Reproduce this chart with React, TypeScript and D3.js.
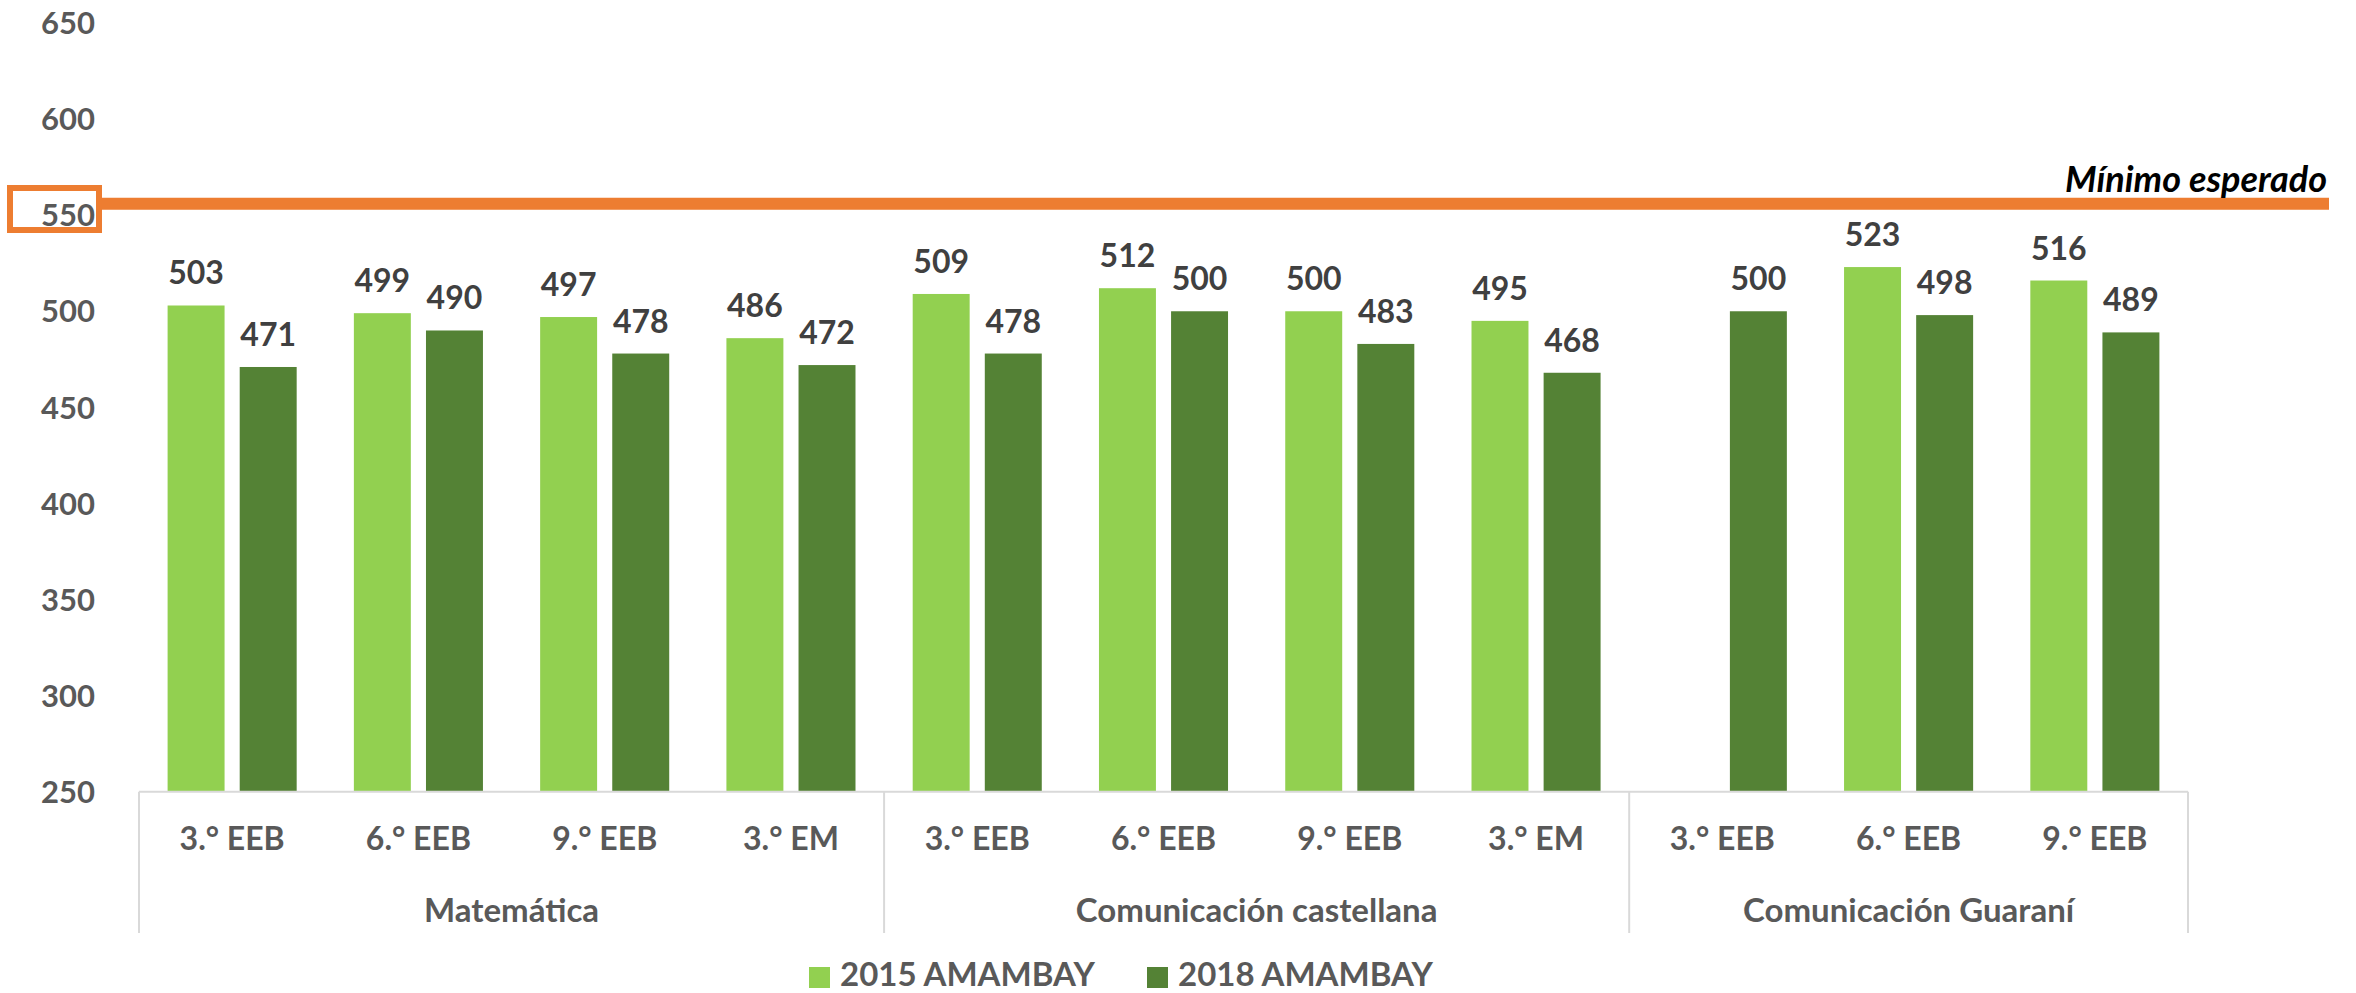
import React from "react";
import * as d3 from "d3";

// data
const categories = ["3.° EEB", "6.° EEB", "9.° EEB", "3.° EM", "3.° EEB", "6.° EEB", "9.° EEB", "3.° EM", "3.° EEB", "6.° EEB", "9.° EEB"];
const groupNames = ["Matemática", "Comunicación castellana", "Comunicación Guaraní"];
const groupSizes = [4, 4, 3];
const seriesNames = ["2015 AMAMBAY", "2018 AMAMBAY"];
const values2015 = [503, 499, 497, 486, 509, 512, 500, 495, null, 523, 516];
const values2018 = [471, 490, 478, 472, 478, 500, 483, 468, 500, 498, 489];
const minimoEsperado = 556;
const minimoLabel = "Mínimo esperado";

const W = 2356;
const H = 993;
const colors = ["#92D050", "#548235"];
const font = "Lato, 'Open Sans', sans-serif";

export default function App() {
  const plotLeft = 139;
  const plotRight = 2188;

  const y = d3.scaleLinear().domain([250, 650]).range([791.7, 23]);
  const x0 = d3
    .scaleBand<number>()
    .domain(d3.range(categories.length))
    .range([plotLeft, plotRight]);
  const bw0 = x0.bandwidth();
  const inset = 28.6;
  const x1 = d3
    .scaleBand<string>()
    .domain(seriesNames)
    .range([inset, bw0 - inset])
    .paddingInner(0.21);

  const series = [values2015, values2018];
  const ticks = y.ticks(8);

  // group boundaries (category index where each group starts)
  const starts = groupSizes.map((_, i) => d3.sum(groupSizes.slice(0, i)));
  const sepIdx = [...starts, categories.length];

  const baseY = y(250);
  const sepBottom = 933;

  return (
    <svg
      width={W}
      height={H}
      style={{ position: "absolute", left: 0, top: 0, background: "#fff" }}
      fontFamily={font}
      fontWeight="bold"
    >
      {/* y axis labels */}
      {ticks.map((t) => (
        <text key={t} x={95} y={y(t)} dy="0.36em" textAnchor="end" fontSize={31} fill="#595959">
          {t}
        </text>
      ))}

      {/* bars */}
      {series.map((vals, si) =>
        vals.map((v, i) =>
          v == null ? null : (
            <rect
              key={`${si}-${i}`}
              x={x0(i)! + x1(seriesNames[si])!}
              y={y(v)}
              width={x1.bandwidth()}
              height={baseY - y(v)}
              fill={colors[si]}
            />
          )
        )
      )}

      {/* data labels */}
      {series.map((vals, si) =>
        vals.map((v, i) =>
          v == null ? null : (
            <text
              key={`l${si}-${i}`}
              x={x0(i)! + x1(seriesNames[si])! + x1.bandwidth() / 2}
              y={y(v) - 21}
              textAnchor="middle"
              fontSize={32}
              fill="#404040"
            >
              {v}
            </text>
          )
        )
      )}

      {/* category axis */}
      <line x1={plotLeft} x2={plotRight} y1={baseY} y2={baseY} stroke="#D9D9D9" strokeWidth={2} />
      {sepIdx.map((k) => {
        const xx = k === categories.length ? plotRight : x0(k)!;
        return <line key={k} x1={xx} x2={xx} y1={baseY} y2={sepBottom} stroke="#D9D9D9" strokeWidth={2} />;
      })}
      {categories.map((c, i) => (
        <text key={i} x={x0(i)! + bw0 / 2} y={850} textAnchor="middle" fontSize={32} fill="#595959">
          {c}
        </text>
      ))}
      {groupNames.map((g, gi) => {
        const a = x0(starts[gi])!;
        const b = a + groupSizes[gi] * bw0;
        return (
          <text key={g} x={(a + b) / 2} y={922} textAnchor="middle" fontSize={33} fill="#595959">
            {g}
          </text>
        );
      })}

      {/* minimum expected line */}
      <line x1={102} x2={2329} y1={y(minimoEsperado)} y2={y(minimoEsperado)} stroke="#ED7D31" strokeWidth={12} />
      <rect x={10} y={188} width={89} height={42} fill="none" stroke="#ED7D31" strokeWidth={6} />
      <text x={2327} y={192} textAnchor="end" fontSize={36} fontStyle="italic" fill="#000">
        {minimoLabel}
      </text>

      {/* legend */}
      {seriesNames.map((s, i) => {
        const lx = i === 0 ? 809 : 1147;
        return (
          <g key={s}>
            <rect x={lx} y={967} width={21} height={21} fill={colors[i]} />
            <text x={lx + 31} y={986} fontSize={33} fill="#595959">
              {s}
            </text>
          </g>
        );
      })}
    </svg>
  );
}
